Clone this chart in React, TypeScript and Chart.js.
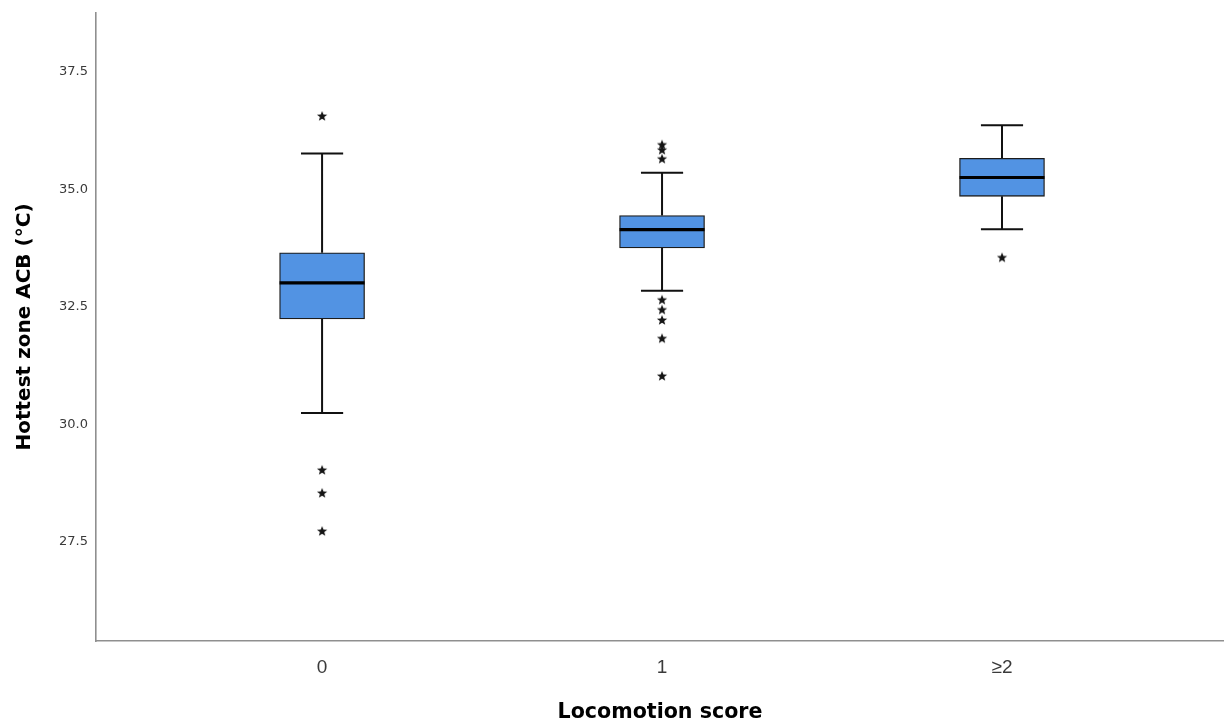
import React, { useEffect, useRef } from "react";
import { Chart, registerables } from "chart.js";

Chart.register(...registerables);

// ---- data ----
const categories = ["0", "1", "≥2"];
const whiskerMin = [30.24, 32.84, 34.15];
const quartile1 = [32.24, 33.75, 34.85];
const medians = [33.01, 34.14, 35.25];
const quartile3 = [33.65, 34.44, 35.66];
const whiskerMax = [35.76, 35.35, 36.36];
const outliers0 = [36.56, 29.03, 28.54, 27.73];
const outliers1 = [35.95, 35.84, 35.65, 32.65, 32.44, 32.22, 31.83, 31.03];
const outliers2 = [33.55];
const yTicks = [27.5, 30.0, 32.5, 35.0, 37.5];

const Y_MIN = 25.39;
const Y_MAX = 38.75;
const X_MIN = -0.665;
const X_MAX = 2.653;

const BOX_HALF = 0.125;
const CAP_HALF = 0.062;

// canvas slightly wider than the window so the plot area reaches the right edge
const CANVAS_W = 1230;
const CANVAS_H = 725;

type P = { x: number; y: number | null };

function segments(list: Array<[number, number, number, number]>): P[] {
  const out: P[] = [];
  list.forEach(([x0, y0, x1, y1]) => {
    out.push({ x: x0, y: y0 }, { x: x1, y: y1 }, { x: x1, y: null });
  });
  return out;
}

function makeStar(): HTMLCanvasElement {
  const c = document.createElement("canvas");
  const s = 12;
  c.width = s;
  c.height = s;
  const ctx = c.getContext("2d")!;
  const cx = s / 2;
  const cy = s / 2 + 0.4;
  const ro = 5.4;
  const ri = 2.3;
  ctx.beginPath();
  for (let i = 0; i < 10; i++) {
    const r = i % 2 === 0 ? ro : ri;
    const a = -Math.PI / 2 + (i * Math.PI) / 5;
    const px = cx + r * Math.cos(a);
    const py = cy + r * Math.sin(a);
    if (i === 0) ctx.moveTo(px, py);
    else ctx.lineTo(px, py);
  }
  ctx.closePath();
  ctx.fillStyle = "#151515";
  ctx.fill();
  return c;
}

export default function App() {
  const ref = useRef<HTMLCanvasElement | null>(null);

  useEffect(() => {
    if (!ref.current) return;
    const star = makeStar();

    const whiskerSegs: Array<[number, number, number, number]> = [];
    const medianSegs: Array<[number, number, number, number]> = [];
    categories.forEach((_, i) => {
      whiskerSegs.push([i, quartile3[i], i, whiskerMax[i]]);
      whiskerSegs.push([i - CAP_HALF, whiskerMax[i], i + CAP_HALF, whiskerMax[i]]);
      whiskerSegs.push([i, quartile1[i], i, whiskerMin[i]]);
      whiskerSegs.push([i - CAP_HALF, whiskerMin[i], i + CAP_HALF, whiskerMin[i]]);
      medianSegs.push([i - BOX_HALF, medians[i], i + BOX_HALF, medians[i]]);
    });

    const outlierPts: P[] = [
      ...outliers0.map((y) => ({ x: 0, y })),
      ...outliers1.map((y) => ({ x: 1, y })),
      ...outliers2.map((y) => ({ x: 2, y })),
    ];

    const chart = new Chart(ref.current, {
      type: "bar",
      data: {
        datasets: [
          {
            type: "line",
            data: segments(whiskerSegs) as any,
            borderColor: "#111111",
            borderWidth: 2,
            pointRadius: 0,
            spanGaps: false,
            order: 4,
          } as any,
          {
            type: "bar",
            data: categories.map((_, i) => ({ x: i, y: [quartile1[i], quartile3[i]] })) as any,
            backgroundColor: "#5293E3",
            borderColor: "#1c1c1c",
            borderWidth: 1.3,
            borderSkipped: false,
            barThickness: 85,
            order: 3,
          } as any,
          {
            type: "line",
            data: segments(medianSegs) as any,
            borderColor: "#000000",
            borderWidth: 3.2,
            pointRadius: 0,
            spanGaps: false,
            order: 2,
          } as any,
          {
            type: "scatter",
            data: outlierPts as any,
            pointStyle: star as any,
            pointRadius: 5,
            order: 1,
          } as any,
        ],
      },
      options: {
        animation: false,
        responsive: false,
        maintainAspectRatio: false,
        layout: { padding: { top: 13, right: 0, bottom: 0, left: 0 } },
        plugins: {
          legend: { display: false },
          tooltip: { enabled: false },
        },
        scales: {
          x: {
            type: "linear",
            min: X_MIN,
            max: X_MAX,
            offset: false,
            grid: { display: false, drawTicks: false, tickLength: 0 },
            border: { display: true, color: "#8f8f8f", width: 1.6 },
            afterBuildTicks: (scale: any) => {
              scale.ticks = categories.map((_, i) => ({ value: i }));
            },
            afterFit: (scale: any) => {
              scale.height = 84;
              scale.paddingLeft = 0;
              scale.paddingRight = 0;
            },
            ticks: {
              padding: 15,
              color: "#3a3a3a",
              font: { family: "'Liberation Sans', Arial", size: 19 },
              maxRotation: 0,
              autoSkip: false,
              callback: (v: any) => categories[Math.round(Number(v))] ?? "",
            },
            title: {
              display: true,
              text: "Locomotion score",
              color: "#000000",
              font: { family: "'DejaVu Sans'", size: 20.6, weight: "bold" },
              padding: { top: 0, bottom: 0 },
            },
          },
          y: {
            type: "linear",
            min: Y_MIN,
            max: Y_MAX,
            grid: { display: false, drawTicks: false, tickLength: 0 },
            border: { display: true, color: "#8f8f8f", width: 1.6 },
            afterBuildTicks: (scale: any) => {
              scale.ticks = yTicks.map((v) => ({ value: v }));
            },
            afterFit: (scale: any) => {
              scale.width = 96;
              scale.paddingTop = 0;
              scale.paddingBottom = 0;
            },
            ticks: {
              padding: 8,
              color: "#3a3a3a",
              font: { family: "'DejaVu Sans'", size: 13 },
              callback: (v: any) => Number(v).toFixed(1),
            },
            title: {
              display: true,
              text: "Hottest zone ACB (°C)",
              color: "#000000",
              font: { family: "'DejaVu Sans'", size: 20, weight: "bold" },
              padding: { top: 13, bottom: 0 },
            },
          },
        },
      } as any,
    });

    return () => chart.destroy();
  }, []);

  return (
    <div
      style={{
        position: "absolute",
        left: 0,
        top: 0,
        width: 1224,
        height: 725,
        overflow: "hidden",
        background: "#ffffff",
      }}
    >
      <canvas
        ref={ref}
        width={CANVAS_W}
        height={CANVAS_H}
        style={{ width: CANVAS_W, height: CANVAS_H, display: "block" }}
      />
    </div>
  );
}
